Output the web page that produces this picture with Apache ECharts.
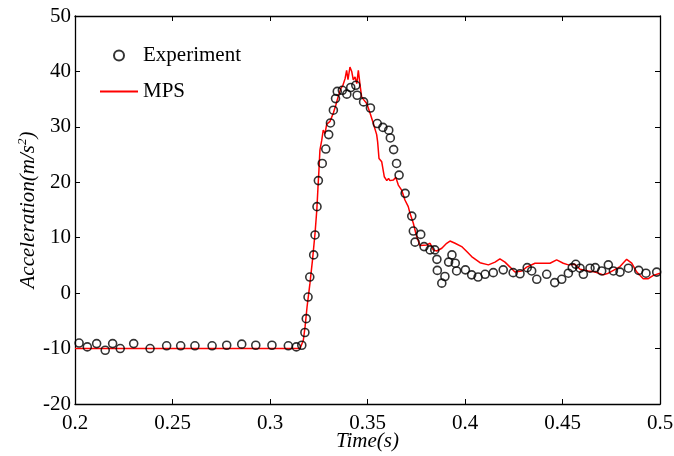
<!DOCTYPE html>
<html>
<head>
<meta charset="utf-8">
<script src="https://cdn.jsdelivr.net/npm/echarts@6/dist/echarts.min.js"></script>
<style>html,body{margin:0;padding:0;background:#fff}#c{width:674px;height:456px}</style>
</head>
<body>
<div id="c"></div>
<script>
var xTicks = [0.2, 0.25, 0.3, 0.35, 0.4, 0.45, 0.5];
var yTicks = [-20, -10, 0, 10, 20, 30, 40, 50];

var expTime = [0.2021,0.2063,0.2111,0.2155,0.2193,0.2232,0.2301,0.2385,0.2470,0.2542,0.2615,0.2703,0.2778,0.2855,0.2927,0.3010,0.3094,0.3135,0.3163,0.3179,0.3186,0.3195,0.3204,0.3224,0.3231,0.3241,0.3248,0.3268,0.3286,0.3301,0.3310,0.3325,0.3336,0.3345,0.3371,0.3394,0.3414,0.3440,0.3447,0.3480,0.3515,0.3550,0.3579,0.3609,0.3617,0.3634,0.3649,0.3662,0.3693,0.3727,0.3735,0.3744,0.3773,0.3790,0.3821,0.3845,0.3856,0.3858,0.3881,0.3897,0.3916,0.3933,0.3950,0.3957,0.4002,0.4034,0.4067,0.4103,0.4145,0.4196,0.4247,0.4282,0.4319,0.4342,0.4368,0.4419,0.4460,0.4496,0.4530,0.4550,0.4568,0.4590,0.4607,0.4641,0.4668,0.4701,0.4735,0.4761,0.4795,0.4838,0.4891,0.4928,0.4983];
var expAcc = [-9.0,-9.7,-9.1,-10.3,-9.1,-10.0,-9.1,-10.0,-9.5,-9.5,-9.5,-9.5,-9.4,-9.2,-9.4,-9.4,-9.5,-9.7,-9.4,-7.1,-4.6,-0.7,2.9,6.9,10.5,15.6,20.3,23.4,26.0,28.6,30.7,33.0,35.1,36.4,36.6,35.9,37.1,37.5,35.7,34.5,33.4,30.6,29.9,29.4,28.0,25.9,23.4,21.3,18.0,13.9,11.2,9.2,10.6,8.4,7.8,7.8,6.1,4.1,1.8,3.0,5.6,6.9,5.4,4.0,4.2,3.3,2.9,3.4,3.7,4.2,3.7,3.5,4.6,4.0,2.5,3.4,1.9,2.5,3.6,4.6,5.2,4.5,3.4,4.5,4.6,4.0,5.1,4.0,3.8,4.5,4.1,3.6,3.8];

var mpsTime = [0.2,0.3154,0.3163,0.3171,0.3180,0.3190,0.3205,0.3218,0.3231,0.3240,0.3246,0.3251,0.3256,0.3265,0.3273,0.3282,0.3291,0.3308,0.3325,0.3338,0.3350,0.3363,0.3374,0.3385,0.3393,0.3400,0.3410,0.3419,0.3427,0.3436,0.3445,0.3453,0.3462,0.3470,0.3478,0.3496,0.3513,0.3530,0.3547,0.3552,0.3559,0.3573,0.3586,0.3599,0.3608,0.3615,0.3624,0.3633,0.3645,0.3658,0.3675,0.3692,0.3709,0.3718,0.3735,0.3752,0.3769,0.3778,0.3804,0.3821,0.3837,0.3855,0.3881,0.3906,0.3923,0.3949,0.3983,0.4009,0.4034,0.4077,0.4120,0.4154,0.4179,0.4205,0.4231,0.4256,0.4291,0.4316,0.4359,0.4402,0.4436,0.4470,0.4504,0.4530,0.4564,0.4590,0.4632,0.4667,0.4709,0.4735,0.4761,0.4795,0.4829,0.4855,0.4881,0.4914,0.4940,0.4966,0.5];
var mpsAcc = [-10.0,-10.0,-9.7,-8.5,-6.0,-2.5,1.8,6.0,10.8,15.0,19.0,22.2,25.8,27.5,29.4,28.8,30.5,31.0,32.5,34.0,35.5,36.9,37.5,38.7,40.2,38.5,40.8,40.0,38.5,39.0,37.8,40.2,37.5,35.4,35.0,34.2,32.5,30.6,28.6,27.3,24.3,23.7,21.0,20.3,20.7,20.3,20.6,20.4,20.9,19.5,18.6,16.8,15.6,14.4,12.6,10.2,8.6,8.4,8.7,9.0,7.8,7.6,8.1,9.0,9.4,9.0,8.4,7.5,6.6,5.5,5.1,5.6,6.2,5.6,4.7,3.8,4.0,4.7,5.4,5.4,5.4,6.0,5.4,5.1,5.2,4.3,4.0,3.8,3.3,3.6,4.1,4.8,6.1,5.4,3.8,2.6,2.6,3.2,3.6];

function pairs(a, b) { return a.map(function (v, i) { return [v, b[i]]; }); }

var FONT = 'Liberation Serif';
var chart = echarts.init(document.getElementById('c'), null, {renderer: 'canvas'});
var baseX = {
  type: 'value', min: xTicks[0], max: xTicks[xTicks.length - 1], interval: 0.05,
  axisLine: {onZero: false, lineStyle: {color: '#000', width: 1.3}},
  axisTick: {inside: true, length: 5, lineStyle: {color: '#000'}},
  splitLine: {show: false}
};
var baseY = {
  type: 'value', min: yTicks[0], max: yTicks[yTicks.length - 1], interval: 10,
  axisLine: {onZero: false, lineStyle: {color: '#000', width: 1.3}},
  axisTick: {inside: true, length: 5, lineStyle: {color: '#000'}},
  splitLine: {show: false}
};
chart.setOption({
  backgroundColor: '#fff',
  animation: false,
  grid: {left: 75, right: 14, top: 16, bottom: 52, containLabel: false, outerBoundsMode: 'none'},
  legend: {
    orient: 'vertical', left: 94, top: 40, itemWidth: 38, itemHeight: 10, itemGap: 15,
    textStyle: {fontFamily: FONT, fontSize: 21, color: '#000'},
    data: [
      {name: 'Experiment', icon: 'circle', itemStyle: {color: 'rgba(0,0,0,0)', borderColor: '#000', borderWidth: 2}},
      {name: 'MPS', itemStyle: {opacity: 0}}
    ]
  },
  xAxis: [
    Object.assign({}, baseX, {
      position: 'bottom',
      axisLabel: {color: '#000', fontFamily: FONT, fontSize: 21, margin: 9},
      name: 'Time(s)', nameLocation: 'middle', nameGap: 27, nameMoveOverlap: false,
      nameTextStyle: {fontFamily: FONT, fontStyle: 'italic', fontSize: 21, color: '#000'}
    }),
    Object.assign({}, baseX, {position: 'top', axisLabel: {show: false}})
  ],
  yAxis: [
    Object.assign({}, baseY, {
      position: 'left',
      axisLabel: {color: '#000', fontFamily: FONT, fontSize: 21, margin: 4},
      name: '{a|Acceleration(m/s}{s|2}{a|)}', nameLocation: 'middle', nameGap: 35, nameRotate: 90, nameMoveOverlap: false,
      nameTextStyle: {
        fontFamily: FONT, fontStyle: 'italic', fontSize: 21, color: '#000',
        rich: {
          a: {fontFamily: FONT, fontStyle: 'italic', fontSize: 21, color: '#000', lineHeight: 24},
          s: {fontFamily: FONT, fontStyle: 'italic', fontSize: 13, color: '#000', verticalAlign: 'top', lineHeight: 24}
        }
      }
    }),
    Object.assign({}, baseY, {position: 'right', axisLabel: {show: false}})
  ],
  series: [
    {
      name: 'MPS', type: 'line', xAxisIndex: 0, yAxisIndex: 0,
      data: pairs(mpsTime, mpsAcc), showSymbol: false, symbol: 'none',
      lineStyle: {color: '#ff0000', width: 1.5}, itemStyle: {color: '#ff0000'}, z: 2
    },
    {
      name: 'Experiment', type: 'scatter', xAxisIndex: 0, yAxisIndex: 0,
      data: pairs(expTime, expAcc), symbol: 'circle', symbolSize: 8,
      itemStyle: {color: 'rgba(0,0,0,0)', borderColor: '#000', borderWidth: 1.6}, z: 3
    }
  ]
});
</script>
</body>
</html>
